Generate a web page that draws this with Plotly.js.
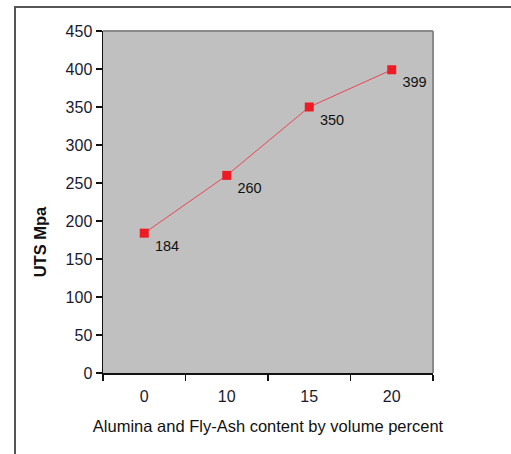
<!DOCTYPE html>
<html>
<head>
<meta charset="utf-8">
<script src="https://cdn.plot.ly/plotly-3.0.1.min.js"></script>
<style>
html,body{margin:0;padding:0;background:#fff;}
#wrap{position:relative;width:511px;height:454px;}
#chart{width:511px;height:454px;}
#frame{position:absolute;left:14px;top:6px;right:-2px;bottom:-2px;border-left:2px solid #555;border-top:2px solid #555;pointer-events:none;}
</style>
</head>
<body>
<div id="wrap"><div id="chart"></div><div id="frame"></div></div>
<script>
const categories = ['0', '10', '15', '20'];
const utsValues = [184, 260, 350, 399];
const yTicks = [0, 50, 100, 150, 200, 250, 300, 350, 400, 450];
const xTitle = 'Alumina and Fly-Ash content by volume percent';
const yTitle = 'UTS Mpa';

const trace = {
  x: categories,
  y: utsValues,
  type: 'scatter',
  mode: 'lines+markers+text',
  text: utsValues.map(v => '\u00a0' + v),
  textposition: 'bottom right',
  textfont: {family: 'Liberation Sans, Arial, sans-serif', size: 14.5, color: '#111'},
  line: {color: 'rgb(232,70,80)', width: 1},
  marker: {symbol: 'square', size: 9, color: 'rgb(237,28,36)'},
  cliponaxis: false,
  hoverinfo: 'none'
};

const layout = {
  width: 511, height: 454,
  margin: {l: 103, r: 78, t: 31, b: 81},
  paper_bgcolor: '#ffffff',
  plot_bgcolor: '#c0c0c0',
  showlegend: false,
  font: {family: 'Liberation Sans, Arial, sans-serif', color: '#111'},
  xaxis: {
    type: 'category',
    range: [-0.5, 3.5],
    showgrid: false, zeroline: false,
    showline: true, linecolor: '#111', linewidth: 1.5,
    ticks: 'outside', tickson: 'boundaries', ticklen: 6, tickcolor: '#111', tickwidth: 1.5,
    ticklabelstandoff: 8,
    tickfont: {size: 16, color: '#1a1a2e'},
    title: {text: xTitle, font: {size: 16.5, color: '#111'}, standoff: 16}
  },
  yaxis: {
    range: [0, 450],
    tickvals: yTicks,
    showgrid: false, zeroline: false,
    showline: true, linecolor: '#111', linewidth: 1.5,
    ticks: 'outside', ticklen: 6, tickcolor: '#111', tickwidth: 1.5,
    tickfont: {size: 16, color: '#1a1a2e'}
  },
  annotations: [
    {text: '<b>' + yTitle + '</b>', xref: 'paper', yref: 'paper', x: -0.19, y: 0.383,
     textangle: -90, showarrow: false, xanchor: 'center', yanchor: 'middle',
     font: {size: 16.5, color: '#111'}}
  ],
  shapes: [
    {type: 'line', xref: 'paper', yref: 'paper', x0: 0, x1: 1, y0: 1, y1: 1, line: {color: '#8a8a8a', width: 2}},
    {type: 'line', xref: 'paper', yref: 'paper', x0: 1, x1: 1, y0: 0, y1: 1, line: {color: '#8a8a8a', width: 2}}
  ]
};

Plotly.newPlot('chart', [trace], layout, {staticPlot: true, displayModeBar: false});
</script>
</body>
</html>
